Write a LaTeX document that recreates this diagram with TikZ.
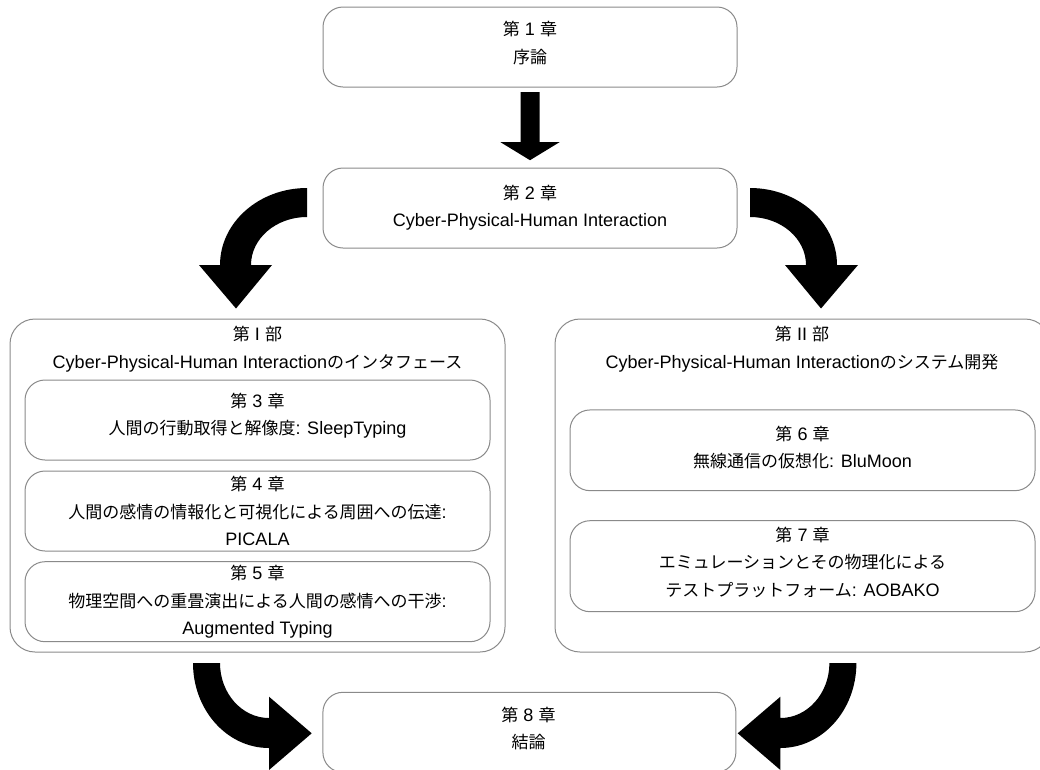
\documentclass[tikz,border=0pt]{standalone}
\usepackage{fontspec}
\setmainfont{Liberation Sans}[Scale=1.06]
\newfontfamily\jp{Noto Sans CJK JP}
\usetikzlibrary{calc}
\definecolor{edge}{RGB}{138,138,138}
\tikzset{
  chapbox/.style={draw=edge, line width=1pt, rounded corners=20pt, fill=white,
    minimum width=#1, inner sep=0pt},
  chapbox/.default=414pt,
  partbox/.style={draw=edge, line width=1pt, rounded corners=25pt,
    minimum width=495pt, minimum height=333pt, inner sep=0pt},
  txt/.style={inner sep=0pt, align=center, font={\fontsize{17}{27.5}\selectfont}},
  blockarrow/.style={fill=black, draw=none}
}
\begin{document}
\begin{tikzpicture}[x=1pt, y=-1pt]
\useasboundingbox (0,0) rectangle (1040,769);
\clip (0,0) rectangle (1040,769);

% chapters 1, 2 and 8
\node[chapbox, minimum height=80pt] (c1) at (530,47) {};
\node[txt] (c1t) at (530,43) {{\jp 第} 1 {\jp 章}\\{\jp 序論}};
\node[chapbox, minimum height=80pt] (c2) at (530,208) {};
\node[txt] (c2t) at (530,207.5) {{\jp 第} 2 {\jp 章}\\Cyber-Physical-Human Interaction};
\node[chapbox=413pt, minimum height=80pt] (c8) at (529.4,732.3) {};
\node[txt] (c8t) at (528.5,728.7) {{\jp 第} 8 {\jp 章}\\{\jp 結論}};

% part I
\node[partbox] (p1) at (257.5,485.5) {};
\node[txt] (p1t) at (257.5,349) {{\jp 第} I {\jp 部}\\Cyber-Physical-Human Interaction{\jp のインタフェース}};
\node[chapbox=465pt, minimum height=80pt] (c3) at (257.5,420) {};
\node[txt] (c3t) at (257.5,415.5) {{\jp 第} 3 {\jp 章}\\{\jp 人間の行動取得と解像度}: SleepTyping};
\node[chapbox=465pt, minimum height=80pt] (c4) at (257.5,511) {};
\node[txt] (c4t) at (257.5,511) {{\jp 第} 4 {\jp 章}\\{\jp 人間の感情の情報化と可視化による周囲への伝達}:\\PICALA};
\node[chapbox=465pt, minimum height=80pt] (c5) at (257.5,601.7) {};
\node[txt] (c5t) at (257.5,601.7) {{\jp 第} 5 {\jp 章}\\{\jp 物理空間への重畳演出による人間の感情への干渉}:\\Augmented Typing};

% part II
\node[partbox] (p2) at (802.5,485.5) {};
\node[txt] (p2t) at (802,349) {{\jp 第} II {\jp 部}\\Cyber-Physical-Human Interaction{\jp のシステム開発}};
\node[chapbox=465pt, minimum height=80.7pt] (c6) at (802.5,450.3) {};
\node[txt] (c6t) at (802.5,447.5) {{\jp 第} 6 {\jp 章}\\{\jp 無線通信の仮想化}: BluMoon};
\node[chapbox=465pt, minimum height=91pt] (c7) at (802.5,566.2) {};
\node[txt] (c7t) at (802.5,562) {{\jp 第} 7 {\jp 章}\\{\jp エミュレーションとその物理化による}\\{\jp テストプラットフォーム}: AOBAKO};

% straight block arrow from chapter 1 to chapter 2
\coordinate (a0) at ($(c1.south)+(0,4.7)$);
\coordinate (a1) at ($(c2.north)+(0,-7.3)$);
\fill[blockarrow] ($(a0)+(-9.5,0)$) -- ($(a0)+(9.5,0)$) -- ($(a1)+(9.5,-18)$)
  -- ($(a1)+(29.5,-18)$) -- (a1) -- ($(a1)+(-29.5,-18)$) -- ($(a1)+(-9.5,-18)$) -- cycle;

% curved block arrow: chapter 2 to part I
\coordinate (tl) at ($(c2.west)+(-16,0)$);
\fill[blockarrow] (307,188) .. controls (259,188) and (220,222.5) .. (220,265)
  -- (199,265) -- (236,308.5) -- (272,265) -- (251,265)
  .. controls (251,238.5) and (276,217) .. (307,217) -- cycle;

% curved block arrow: chapter 2 to part II
\coordinate (tr) at ($(c2.east)+(14,0)$);
\fill[blockarrow] (750,188) .. controls (798,188) and (837,222.5) .. (837,265)
  -- (858,265) -- (821,308.5) -- (785,265) -- (806,265)
  .. controls (806,238.5) and (781,217) .. (750,217) -- cycle;

% curved block arrow: part I to chapter 8
\fill[blockarrow] (193,663) .. controls (193,710) and (227,748) .. (269,748)
  -- (269,770) -- (311.7,733.3) -- (269,696.7) -- (269,718)
  .. controls (242,718) and (220,693.4) .. (220,663) -- cycle;

% curved block arrow: part II to chapter 8
\fill[blockarrow] (856.4,663) .. controls (856.4,710) and (822.4,748) .. (780.4,748)
  -- (780.4,770) -- (737.7,733.3) -- (780.4,696.7) -- (780.4,718)
  .. controls (807.4,718) and (829.4,693.4) .. (829.4,663) -- cycle;
\end{tikzpicture}
\end{document}
